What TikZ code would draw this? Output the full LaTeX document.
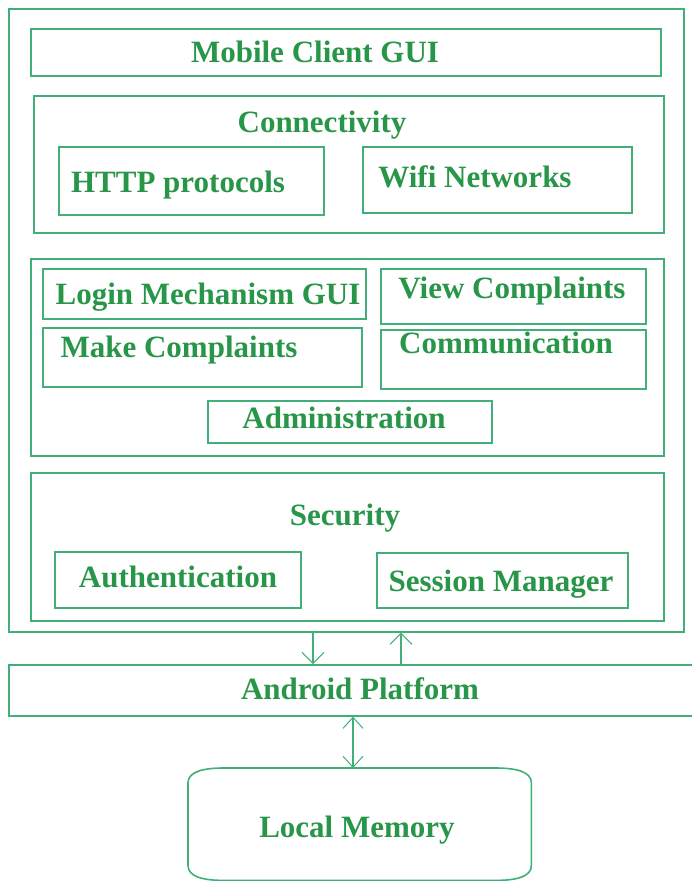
\documentclass[tikz,border=0pt]{standalone}
\usepackage{fontspec}
\setmainfont{Liberation Serif}
\usetikzlibrary{arrows.meta}
\definecolor{lineg}{RGB}{64,176,120}
\definecolor{textg}{RGB}{40,150,72}
\begin{document}
\begin{tikzpicture}[x=1pt,y=-1pt,
  box/.style={draw=lineg, line width=1.6pt, inner sep=0pt, anchor=north west},
  lab/.style={text=textg, inner sep=0pt, anchor=base, font=\fontsize{31}{35}\selectfont\bfseries},
  arr/.style={draw=lineg, line width=1.4pt, -{Straight Barb[length=11pt,width=22pt,line width=1pt]}},
  darr/.style={draw=lineg, line width=1.4pt, {Straight Barb[length=11pt,width=20pt,line width=1pt]}-{Straight Barb[length=11pt,width=20pt,line width=1pt]}}]
\useasboundingbox (0,0) rectangle (691,881);
\fill[white] (0,0) rectangle (691,881);
% boxes
\node[box, minimum width=675pt, minimum height=623pt] (outer) at (8,8) {};
\node[box, minimum width=630pt, minimum height=47pt] (mcg) at (30,28) {};
\node[box, minimum width=630pt, minimum height=137pt] (conn) at (33,95) {};
\node[box, minimum width=265pt, minimum height=68pt] (http) at (58,146) {};
\node[box, minimum width=269pt, minimum height=66pt] (wifi) at (362,146) {};
\node[box, minimum width=633pt, minimum height=197pt] (mid) at (30,258) {};
\node[box, minimum width=323pt, minimum height=50pt] (login) at (42,268) {};
\node[box, minimum width=265pt, minimum height=55pt] (view) at (380,268) {};
\node[box, minimum width=319pt, minimum height=59pt] (make) at (42,327) {};
\node[box, minimum width=265pt, minimum height=59pt] (comm) at (380,329) {};
\node[box, minimum width=284pt, minimum height=42pt] (admin) at (207,400) {};
\node[box, minimum width=633pt, minimum height=148pt] (sec) at (30,472) {};
\node[box, minimum width=246pt, minimum height=56pt] (auth) at (54,551) {};
\node[box, minimum width=251pt, minimum height=55pt] (sess) at (376,552) {};
\node[box, minimum width=700pt, minimum height=51pt] (android) at (8,664) {};
\node[inner sep=0pt, anchor=north west, minimum width=343pt, minimum height=112pt] (memory) at (188,768) {};
\draw[lineg, line width=1.6pt]
  ([xshift=36pt]memory.north west) -- ([xshift=-36pt]memory.north east)
  .. controls ([xshift=-14pt]memory.north east) and ([yshift=-4pt]memory.north east) .. ([yshift=-15pt]memory.north east)
  -- ([yshift=15pt]memory.south east)
  .. controls ([yshift=4pt]memory.south east) and ([xshift=-14pt]memory.south east) .. ([xshift=-36pt]memory.south east)
  -- ([xshift=36pt]memory.south west)
  .. controls ([xshift=14pt]memory.south west) and ([yshift=4pt]memory.south west) .. ([yshift=15pt]memory.south west)
  -- ([yshift=-15pt]memory.north west)
  .. controls ([yshift=-4pt]memory.north west) and ([xshift=14pt]memory.north west) .. ([xshift=36pt]memory.north west) -- cycle;
% labels
\node[lab] (tmcg) at (315,62) {Mobile Client GUI};
\node[lab] (tconn) at (322,132) {Connectivity};
\node[lab] (thttp) at (178,192) {HTTP protocols};
\node[lab] (twifi) at (475,187) {Wifi Networks};
\node[lab] (tlogin) at (208,304) {Login Mechanism GUI};
\node[lab] (tview) at (512,298) {View Complaints};
\node[lab] (tmake) at (179,357) {Make Complaints};
\node[lab] (tcomm) at (506,353) {Communication};
\node[lab] (tadmin) at (344,428) {Administration};
\node[lab] (tsec) at (345,525) {Security};
\node[lab] (tauth) at (178,587) {Authentication};
\node[lab] (tsess) at (501,591) {Session Manager};
\node[lab] (tandroid) at (360,699) {Android Platform};
\node[lab] (tmem) at (357,837) {Local Memory};
% connectors
\draw[arr] (313,0 |- outer.south) -- (313,0 |- android.north);
\draw[arr] (401,0 |- android.north) -- (401,0 |- outer.south);
\draw[darr] (353,0 |- android.south) -- (353,0 |- memory.north);
\end{tikzpicture}
\end{document}
